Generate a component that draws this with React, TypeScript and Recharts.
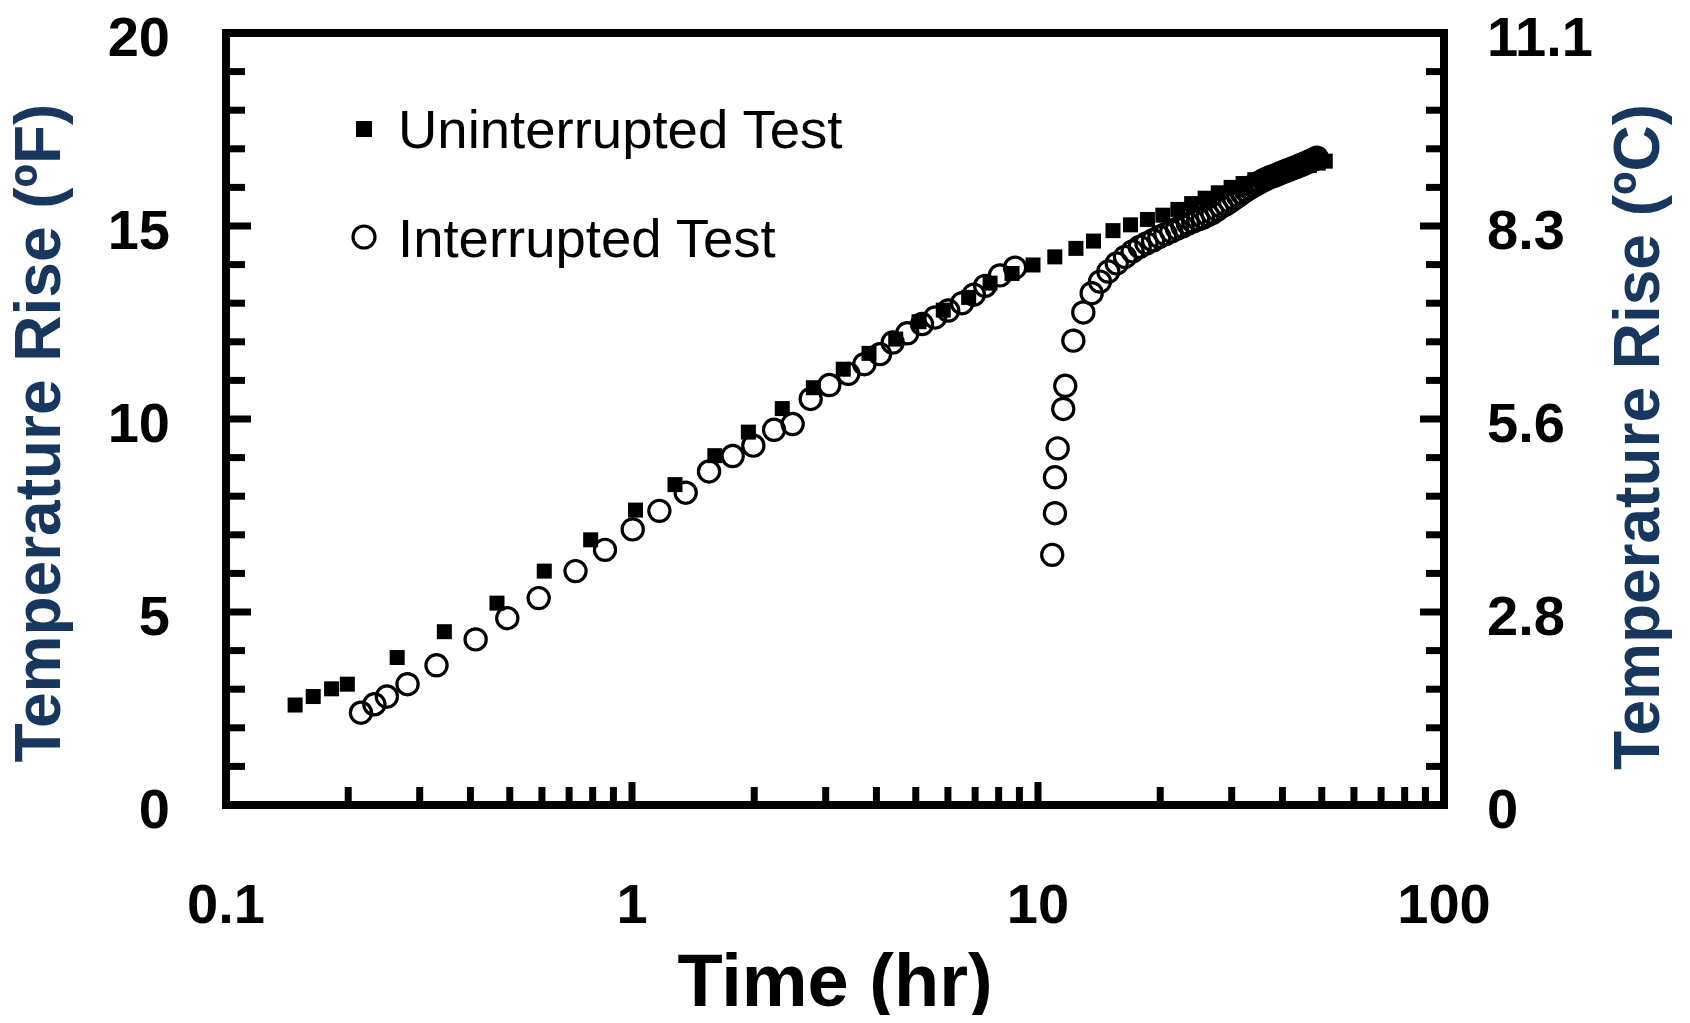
import { ScatterChart, Scatter, XAxis, YAxis, ReferenceArea, Legend, Label } from 'recharts'

// uninterrupted test (filled squares)
const uninterruptedTime = [
  0.148, 0.164, 0.182, 0.199, 0.264, 0.345, 0.465, 0.608, 0.791, 1.02, 1.276, 1.6, 1.935, 2.345, 2.797,
  3.314, 3.835, 4.462, 5.092, 5.844, 6.75, 7.62, 8.63, 9.72, 11.0, 12.4, 13.7, 15.3, 16.9, 18.6, 20.3,
  22.1, 23.9, 25.8, 27.8, 29.9, 32.0, 34.2, 36.5, 38.9, 41.4, 44.0, 46.6, 49.0, 51.0,
]
const uninterruptedRise = [
  2.59, 2.81, 3.01, 3.13, 3.82, 4.49, 5.23, 6.06, 6.87, 7.64, 8.3, 9.05, 9.66, 10.27, 10.81,
  11.29, 11.7, 12.07, 12.52, 12.82, 13.15, 13.52, 13.77, 13.99, 14.2, 14.42, 14.61, 14.88, 15.03, 15.17, 15.28,
  15.43, 15.58, 15.72, 15.86, 16.0, 16.1, 16.2, 16.28, 16.35, 16.42, 16.5, 16.57, 16.63, 16.68,
]

// interrupted test (open circles)
const interruptedTime = [
  0.215, 0.232, 0.249, 0.28, 0.33, 0.412, 0.493, 0.589, 0.726, 0.858, 1.004, 1.168, 1.356, 1.548, 1.77,
  1.99, 2.238, 2.487, 2.755, 3.062, 3.41, 3.735, 4.08, 4.386, 4.765, 5.18, 5.58, 6.01, 6.5, 6.95, 7.41,
  8.06, 8.78,
  10.84, 11.01, 11.01, 11.18, 11.54, 11.67, 12.22, 12.93, 13.56, 14.21, 14.9, 15.63, 16.38,
  17.1, 17.8, 18.5, 19.2, 19.9, 20.6, 21.3, 22.0, 22.7, 23.4, 24.1, 24.8, 25.5, 26.2, 26.9, 27.6,
  28.3, 29.0, 29.7, 30.4, 31.1, 31.8, 32.5, 33.2, 33.9, 34.6, 35.3, 36.0, 36.7, 37.4, 38.1, 38.8,
  39.5, 40.2, 40.9, 41.6, 42.3, 43.0, 43.7, 44.4, 45.1, 45.8, 46.5, 47.2, 47.9, 48.6,
]
const interruptedRise = [
  2.39, 2.61, 2.81, 3.13, 3.62, 4.29, 4.84, 5.36, 6.06, 6.61, 7.14, 7.62, 8.09, 8.64, 9.04,
  9.31, 9.72, 9.87, 10.52, 10.88, 11.17, 11.42, 11.68, 11.98, 12.22, 12.46, 12.63, 12.81, 13.0, 13.22, 13.45,
  13.72, 13.92,
  6.48, 7.56, 8.49, 9.24, 10.26, 10.86, 12.03, 12.76, 13.26, 13.56, 13.82, 14.03, 14.2,
  14.34, 14.46, 14.55, 14.63, 14.72, 14.79, 14.86, 14.93, 14.99, 15.06, 15.12, 15.17, 15.22, 15.28, 15.34, 15.42,
  15.5, 15.56, 15.63, 15.71, 15.78, 15.85, 15.92, 15.98, 16.04, 16.09, 16.14, 16.19, 16.23, 16.27, 16.3, 16.33,
  16.37, 16.4, 16.43, 16.46, 16.49, 16.52, 16.55, 16.58, 16.61, 16.64, 16.67, 16.7, 16.73, 16.77,
]

const seriesNames = ['Uninterrupted Test', 'Interrupted Test']

const xMajorTicks = [0.1, 1, 10, 100]
const xTickLabels = ['0.1', '1', '10', '100']
const xMinorTicks = [
  0.2, 0.3, 0.4, 0.5, 0.6, 0.7, 0.8, 0.9,
  2, 3, 4, 5, 6, 7, 8, 9,
  20, 30, 40, 50, 60, 70, 80, 90,
]
const yTicks = [0, 1, 2, 3, 4, 5, 6, 7, 8, 9, 10, 11, 12, 13, 14, 15, 16, 17, 18, 19, 20]
const yLeftLabels = ['0', '5', '10', '15', '20']
const yRightLabels = ['0', '2.8', '5.6', '8.3', '11.1']

const FONT = '"Liberation Sans", Arial, Helvetica, sans-serif'
const TITLE_COLOR = '#17375E'

const uninterrupted = uninterruptedTime.map((t, i) => ({ t, rise: uninterruptedRise[i] }))
const interrupted = interruptedTime.map((t, i) => ({ t, rise: interruptedRise[i] }))
const xTicks = [...xMajorTicks, ...xMinorTicks].sort((a, b) => a - b)

const BottomTick = (props: any) => {
  const { x, y, payload } = props
  const idx = xMajorTicks.indexOf(payload.value)
  const major = idx >= 0
  return (
    <g>
      <line x1={x} x2={x} y1={y} y2={y - (major ? 23 : 18)} stroke="#000" strokeWidth={7} />
      {major && (
        <text x={x} y={y + 118} textAnchor="middle" fontSize={56} fontWeight="bold" fontFamily={FONT} fill="#000">
          {xTickLabels[idx]}
        </text>
      )}
    </g>
  )
}

const LeftTick = (props: any) => {
  const { x, y, payload } = props
  const v = payload.value as number
  const major = v % 5 === 0
  return (
    <g>
      <line x1={x} x2={x + (major ? 25 : 19)} y1={y} y2={y} stroke="#000" strokeWidth={7} />
      {major && (
        <text x={x - 56} y={y + 23} textAnchor="end" fontSize={56} fontWeight="bold" fontFamily={FONT} fill="#000">
          {yLeftLabels[v / 5]}
        </text>
      )}
    </g>
  )
}

const RightTick = (props: any) => {
  const { x, y, payload } = props
  const v = payload.value as number
  const major = v % 5 === 0
  return (
    <g>
      <line x1={x} x2={x - (major ? 24 : 18)} y1={y} y2={y} stroke="#000" strokeWidth={7} />
      {major && (
        <text x={x + 43} y={y + 23} textAnchor="start" fontSize={56} fontWeight="bold" fontFamily={FONT} fill="#000">
          {yRightLabels[v / 5]}
        </text>
      )}
    </g>
  )
}

const square = (props: any) => (
  <rect x={props.cx - 7.5} y={props.cy - 7.5} width={15} height={15} fill="#000" />
)
const ring = (props: any) => (
  <circle cx={props.cx} cy={props.cy} r={10.6} fill="none" stroke="#000" strokeWidth={3.2} />
)

// legend box sits at page (330, 95)
const renderLegend = () => (
  <svg width={620} height={190} style={{ display: 'block' }}>
    <rect x={26} y={26} width={16} height={16} fill="#000" />
    <text x={68} y={53} fontSize={54.5} fontFamily={FONT} fill="#000">{seriesNames[0]}</text>
    <circle cx={34} cy={142} r={11} fill="none" stroke="#000" strokeWidth={3.2} />
    <text x={68} y={162} fontSize={54.5} fontFamily={FONT} fill="#000">{seriesNames[1]}</text>
  </svg>
)

const xTitle = () => (
  <text x={835} y={1006} textAnchor="middle" fontSize={74} fontWeight="bold" fontFamily={FONT} fill="#000">
    Time (hr)
  </text>
)
const leftTitle = () => (
  <text transform="translate(60,433) rotate(-90)" textAnchor="middle" fontSize={64} fontWeight="bold" fontFamily={FONT} fill={TITLE_COLOR}>
    Temperature Rise (ºF)
  </text>
)
const rightTitle = () => (
  <text transform="translate(1659,437) rotate(-90)" textAnchor="middle" fontSize={64} fontWeight="bold" fontFamily={FONT} fill={TITLE_COLOR}>
    Temperature Rise (ºC)
  </text>
)

export default function App() {
  return (
    <div style={{ width: 1690, height: 1023, margin: -8, background: '#fff' }}>
      <ScatterChart width={1690} height={1023} margin={{ top: 33, right: 0, bottom: 0, left: 0 }}>
        <XAxis
          dataKey="t"
          type="number"
          scale="log"
          domain={[0.1, 100]}
          ticks={xTicks}
          interval={0}
          allowDataOverflow
          height={218}
          tickSize={0}
          tickMargin={0}
          axisLine={false}
          tickLine={false}
          tick={BottomTick}
        >
          <Label content={xTitle} />
        </XAxis>
        <YAxis
          yAxisId="left"
          dataKey="rise"
          type="number"
          domain={[0, 20]}
          ticks={yTicks}
          interval={0}
          allowDataOverflow
          width={226}
          tickSize={0}
          tickMargin={0}
          axisLine={false}
          tickLine={false}
          tick={LeftTick}
        >
          <Label content={leftTitle} />
        </YAxis>
        <YAxis
          yAxisId="right"
          orientation="right"
          dataKey="rise"
          type="number"
          domain={[0, 20]}
          ticks={yTicks}
          interval={0}
          allowDataOverflow
          width={246}
          tickSize={0}
          tickMargin={0}
          axisLine={false}
          tickLine={false}
          tick={RightTick}
        >
          <Label content={rightTitle} />
        </YAxis>
        <ReferenceArea yAxisId="left" x1={0.1} x2={100} y1={0} y2={20} fill="none" fillOpacity={0} stroke="#000" strokeWidth={8} />
        <Scatter yAxisId="left" name={seriesNames[0]} data={uninterrupted} shape={square} isAnimationActive={false} />
        <Scatter yAxisId="left" name={seriesNames[1]} data={interrupted} shape={ring} isAnimationActive={false} />
        <Legend
          layout="vertical"
          align="center"
          verticalAlign="middle"
          wrapperStyle={{ left: 330, top: 95, width: 620, height: 190, pointerEvents: 'none' }}
          content={renderLegend}
        />
      </ScatterChart>
    </div>
  )
}
